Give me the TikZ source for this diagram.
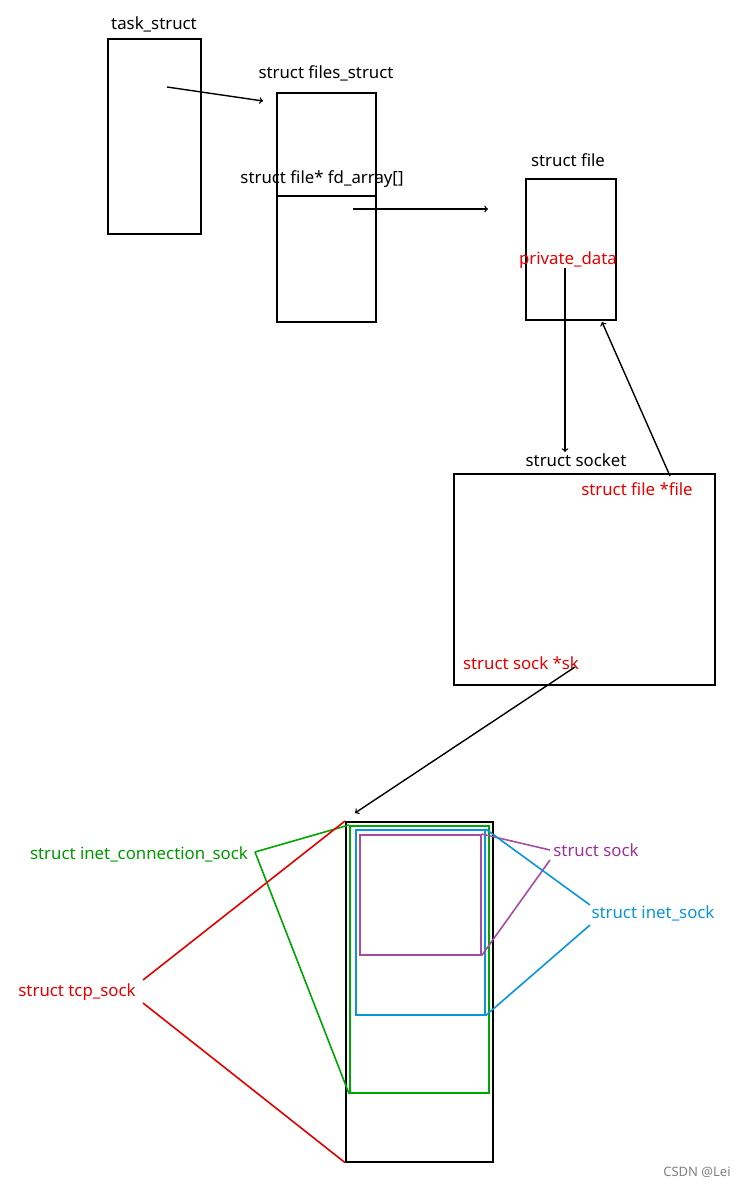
\documentclass[tikz,border=0pt]{standalone}
\usepackage{fontspec}
\setmainfont{Noto Sans}
\begin{document}
\begin{tikzpicture}[x=1pt,y=-1pt,
  lbl/.style={font=\fontsize{16.8}{19}\selectfont,inner sep=0pt},
  box/.style={draw,line width=1.6pt},
  arr/.style={->,line width=1.4pt,>=to},
  red/.style={text=red!90!black},
  lr/.style={draw=red!90!black,line width=1.6pt},
  lg/.style={draw=green!65!black,line width=1.6pt},
  lc/.style={draw=cyan!80!blue,line width=1.6pt},
  lp/.style={draw=violet!70,line width=1.6pt}]
\useasboundingbox (0,0) rectangle (741,1198);
\node[lbl] (tsl) at (154,24) {task\_struct};
\node[box,minimum width=93pt,minimum height=195pt,anchor=north west] (ts) at (107,38) {};
\node[lbl] (fsl) at (326,73) {struct files\_struct};
\node[box,minimum width=99pt,minimum height=229pt,anchor=north west] (fs) at (276,92) {};
\node[box,line width=2.2pt,minimum width=99pt,minimum height=126pt,anchor=north west] (fd) at (276,195) {};
\node[lbl] (fdl) at (322,179) {struct file* fd\_array[]};
\node[lbl] (fl) at (568,160) {struct file};
\node[box,minimum width=90pt,minimum height=141pt,anchor=north west] (f) at (525,178) {};
\node[lbl,red] (pd) at (568,260) {private\_data};
\node[lbl] (sl) at (576,460) {struct socket};
\node[box,minimum width=261pt,minimum height=211pt,anchor=north west] (s) at (453,473) {};
\node[lbl,red] (sf) at (637,489) {struct file *file};
\node[lbl,red] (sk) at (521,663) {struct sock *sk};
\coordinate (a1) at (167,87); \coordinate (a1e) at (263,101);
\draw[arr] (a1) -- (a1e);
\coordinate (a2) at (353,209); \coordinate (a2e) at (488,209);
\draw[arr] (a2) -- (a2e);
\coordinate (a3) at (565,268); \coordinate (a3e) at (565,452);
\draw[arr] (a3) -- (a3e);
\coordinate (a4) at (670,476); \coordinate (a4e) at (602,322);
\draw[arr] (a4) -- (a4e);
\coordinate (a5) at (575,667); \coordinate (a5e) at (355,813);
\draw[arr] (a5) -- (a5e);
\node[box,minimum width=147pt,minimum height=340pt,anchor=north west] (tcp) at (345,821) {};
\node[lg,minimum width=139pt,minimum height=267pt,anchor=north west] (ic) at (349,825) {};
\node[lc,minimum width=129pt,minimum height=185pt,anchor=north west] (is) at (355,829) {};
\node[lp,minimum width=121pt,minimum height=120pt,anchor=north west] (sock) at (359,834) {};
\node[lbl,text=green!60!black] (icl) at (139,854) {struct inet\_connection\_sock};
\node[lbl,text=violet!80] (sockl) at (596,850) {struct sock};
\node[lbl,text=cyan!80!blue] (isl) at (653,913) {struct inet\_sock};
\node[lbl,red] (tcpl) at (77,992) {struct tcp\_sock};
\draw[lg] (255,852) -- (ic.north west);
\draw[lg] (255,852) -- (ic.south west);
\draw[lp] (550,850) -- (sock.north east);
\draw[lp] (550,860) -- (sock.south east);
\draw[lc] (590,905) -- (is.north east);
\draw[lc] (590,925) -- (is.south east);
\draw[lr] (143,980) -- (tcp.north west);
\draw[lr] (143,1003) -- (tcp.south west);
\node[lbl,text=gray,font=\fontsize{13}{15}\selectfont] (wm) at (697,1172) {CSDN @Lei};
\end{tikzpicture}
\end{document}
